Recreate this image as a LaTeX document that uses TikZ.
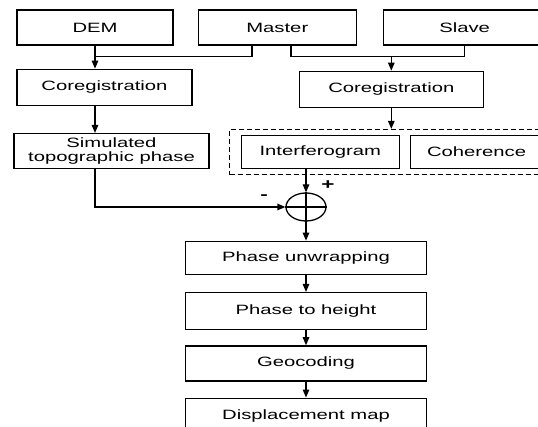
\documentclass[tikz,border=0pt]{standalone}
\usepackage{fontspec}
\setmainfont{Liberation Sans}[FakeStretch=1.5]
\usetikzlibrary{positioning,fit,arrows.meta,shapes.geometric}

\begin{document}
\begin{tikzpicture}[x=1pt,y=1pt,
    >={Triangle[length=8pt,width=6.5pt]},
    box/.style={rectangle,draw=black,line width=1.3pt,minimum height=35pt,inner sep=2pt,
        font=\fontsize{13.5}{14}\selectfont},
    link/.style={line width=1.3pt}]
    \clip (0,0) rectangle (538,427);

    % Inputs
    \node (dem) [box,minimum width=156pt] at (95,399.5) { DEM };
    \node (master) [box,minimum width=158pt,right=24pt of dem] { Master };
    \node (slave) [box,minimum width=162pt,right=26pt of master] { Slave };

    % Coregistration
    \node (coreg1) [box,minimum width=175pt,minimum height=36pt,below right=23pt and 0pt of dem.south west] { Coregistration };
    \node (coreg2) [box,minimum width=184pt,minimum height=36pt,below right=25pt and 101pt of master.south west] { Coregistration };

    \node (sim) [box,minimum width=195pt,align=center,below right=27pt and -3pt of coreg1.south west] { Simulated\\topographic phase };

    \node (interf) [box,minimum width=158pt,minimum height=33pt,below right=27pt and -58pt of coreg2.south west] { Interferogram };
    \node (coh) [box,minimum width=132pt,minimum height=33pt,right=10pt of interf] { Coherence };
    \node (dashbox) [draw=black,line width=1.1pt,dash pattern=on 5pt off 3pt,inner xsep=11pt,inner ysep=5.5pt,fit=(interf)(coh)] { };

    % Difference
    \node (sum) [ellipse,draw=black,line width=1.3pt,minimum width=40pt,minimum height=28pt,inner sep=0pt] at (306,220) { };
    \node (plus) [font=\fontsize{15}{15}\selectfont\bfseries,xshift=22pt,yshift=22pt] at (sum) { + };
    \node (minus) [font=\fontsize{15}{15}\selectfont\bfseries,xshift=-42pt,yshift=10pt] at (sum) { - };

    % Processing chain
    \node (unwrap) [box,minimum width=241pt,minimum height=33pt,below=19pt of sum] { Phase unwrapping };
    \node (p2h) [box,minimum width=241pt,minimum height=37pt,below=17pt of unwrap] { Phase to height };
    \node (geo) [box,minimum width=241pt,below=15pt of p2h] { Geocoding };
    \node (disp) [box,minimum width=241pt,minimum height=36pt,below=16pt of geo] { Displacement map };

    \coordinate (joinL) at (252,370.5);
    \coordinate (joinR) at (291,370.5);

    % Arrows
    \draw[link] (joinL |- master.south) -- (joinL) -- (dem.south |- joinL);
    \draw[link,->] (dem.south) to (dem.south |- coreg1.north);
    \draw[link] (joinR |- master.south) -- (joinR) -| (slave.south);
    \draw[link,->] (coreg2.north |- joinR) to (coreg2.north);
    \draw[link,->] (coreg2.south) to (coreg2.south |- dashbox.north);
    \draw[link,->] (dem.south |- coreg1.south) to (dem.south |- sim.north);
    \draw[link,->] (dem.south |- sim.south) -- (dem.south |- sum) -- (sum.west);
    \draw[link,->] (sum.north |- interf.south) to (sum.north);
    \draw[link] (sum.west) -- (sum.east);
    \draw[link] (sum.north) -- (sum.south);
    \draw[link,->] (sum.south) to (unwrap.north);
    \draw[link,->] (unwrap) to (p2h);
    \draw[link,->] (p2h) to (geo);
    \draw[link,->] (geo) to (disp);

\end{tikzpicture}
\end{document}
